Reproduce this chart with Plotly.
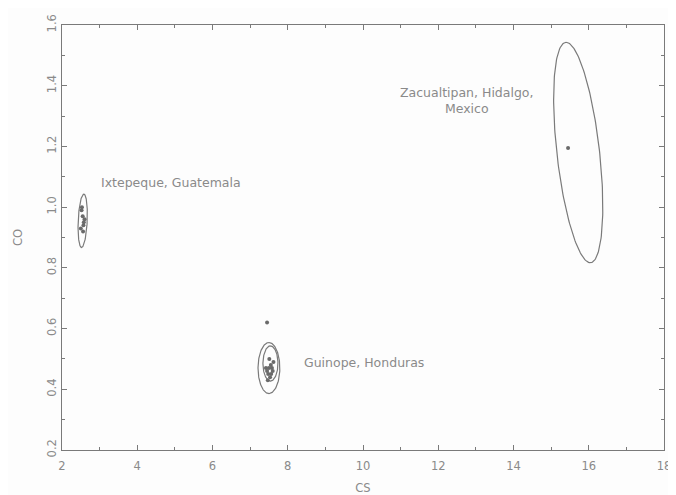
import numpy as np
import plotly.graph_objects as go

# Ellipse parameters (center, top conjugate vector, side conjugate vector)
ell_names = ["Ixtepeque", "Guinope outer", "Guinope inner", "Zacualtipan"]
ell_cx = [2.55, 7.50, 7.54, 15.72]
ell_cy = [0.955, 0.470, 0.485, 1.180]
ell_ux = [0.03, 0.0, 0.0, -0.32]
ell_uy = [0.088, 0.084, 0.058, 0.363]
ell_vx = [0.12, 0.29, 0.20, 0.57]
ell_vy = [0.0, 0.0, 0.0, 0.0]

# Sample points
ixt_x = [2.52, 2.55, 2.58, 2.50, 2.56, 2.60, 2.53, 2.57]
ixt_y = [0.99, 0.97, 0.95, 0.93, 0.92, 0.96, 1.00, 0.94]
gui_x = [7.45, 7.50, 7.55, 7.60, 7.48, 7.53, 7.58, 7.42, 7.62, 7.51, 7.56, 7.47]
gui_y = [0.46, 0.47, 0.48, 0.46, 0.45, 0.44, 0.47, 0.47, 0.49, 0.50, 0.45, 0.43]
gui_out_x = [7.45]
gui_out_y = [0.62]
zac_x = [15.45]
zac_y = [1.195]

labels = ["Ixtepeque, Guatemala", "Guinope, Honduras", "Zacualtipan, Hidalgo,<br>Mexico"]
label_x = [2.98, 8.38, 12.74]
label_y = [1.08, 0.488, 1.35]
label_anchor = ["left", "left", "center"]

x_ticks = [2, 4, 6, 8, 10, 12, 14, 16, 18]
y_ticks = [0.2, 0.4, 0.6, 0.8, 1.0, 1.2, 1.4, 1.6]

line_col = "#7a7a7a"
text_col = "#8a8a8a"
font_fam = "DejaVu Sans, Arial, sans-serif"

fig = go.Figure()
t = np.linspace(0, 2 * np.pi, 200)
for i in range(len(ell_names)):
    xs = ell_cx[i] + ell_ux[i] * np.cos(t) + ell_vx[i] * np.sin(t)
    ys = ell_cy[i] + ell_uy[i] * np.cos(t) + ell_vy[i] * np.sin(t)
    fig.add_trace(go.Scatter(x=xs, y=ys, mode="lines",
                             line=dict(color=line_col, width=1.2),
                             hoverinfo="skip", showlegend=False))

for xs, ys in [(ixt_x, ixt_y), (gui_x, gui_y), (gui_out_x, gui_out_y), (zac_x, zac_y)]:
    fig.add_trace(go.Scatter(x=xs, y=ys, mode="markers",
                             marker=dict(color="#6a6a6a", size=4),
                             showlegend=False))

for txt, lx, ly, anc in zip(labels, label_x, label_y, label_anchor):
    fig.add_annotation(x=lx, y=ly, text=txt, showarrow=False, xanchor=anc,
                       align="center", font=dict(size=12.5, color=text_col, family=font_fam))

axis_common = dict(showline=True, linecolor=line_col, linewidth=1.2, mirror="ticks",
                   ticks="inside", ticklen=5, tickcolor=line_col, showgrid=False,
                   zeroline=False, automargin=False,
                   tickfont=dict(size=11.5, color=text_col, family=font_fam))

fig.update_xaxes(range=[2, 18], tickvals=x_ticks, ticktext=[str(v) for v in x_ticks],
                 ticklabelstandoff=5,
                 minor=dict(dtick=1, ticks="inside", ticklen=3, tickcolor=line_col),
                 title=dict(text="CS", font=dict(size=11.5, color=text_col, family=font_fam), standoff=14),
                 **axis_common)
fig.update_yaxes(range=[0.2, 1.6], tickvals=y_ticks, ticktext=[f"{v:.1f}" for v in y_ticks],
                 tickangle=-90,
                 minor=dict(dtick=0.1, ticks="inside", ticklen=3, tickcolor=line_col),
                 title=dict(text="CO", font=dict(size=11.5, color=text_col, family=font_fam), standoff=20),
                 **axis_common)

fig.update_layout(width=668, height=487, margin=dict(l=54, r=12, t=17, b=45),
                  plot_bgcolor="#fdfdfd", paper_bgcolor="#fdfdfd",
                  font=dict(family=font_fam))

fig.write_html("out.html")
